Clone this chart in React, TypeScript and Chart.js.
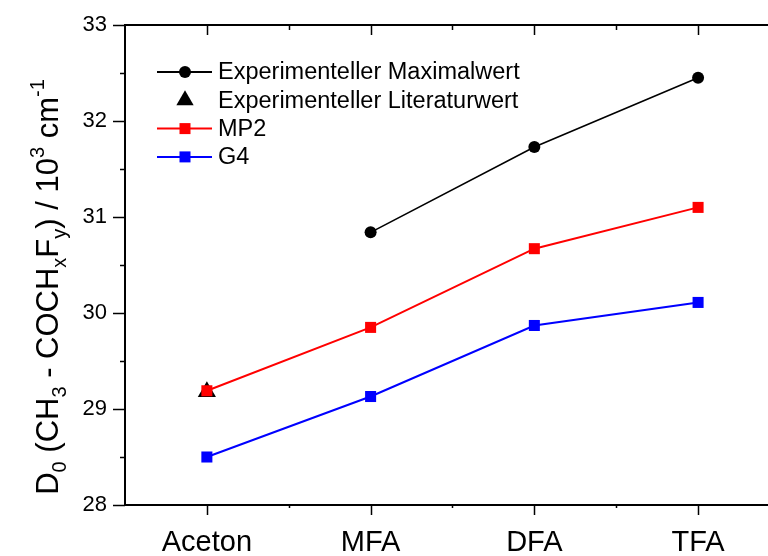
import { useEffect, useRef } from 'react';
import { Chart, registerables } from 'chart.js';

Chart.register(...registerables);

const categories = ['Aceton', 'MFA', 'DFA', 'TFA'];
const maxExp: (number | null)[] = [null, 30.84, 31.73, 32.45];
const litExp: (number | null)[] = [29.18, null, null, null];
const mp2: number[] = [29.19, 29.85, 30.67, 31.10];
const g4: number[] = [28.50, 29.13, 29.87, 30.11];
const yTicks = [28, 29, 30, 31, 32, 33];
const legendLabels = ['Experimenteller Maximalwert', 'Experimenteller Literaturwert', 'MP2', 'G4'];

const FONT = '"Liberation Sans", Arial, Helvetica, sans-serif';

const toPts = (arr: (number | null)[]) => arr.map((v, i) => ({ x: i, y: v }));

const axesPlugin = {
  id: 'customAxes',
  beforeDatasetsDraw(chart: any) {
    const { ctx, chartArea, scales } = chart;
    const { left, top, right, bottom } = chartArea;
    const x = scales.x;
    const y = scales.y;
    ctx.save();
    ctx.strokeStyle = '#000';
    ctx.lineWidth = 2;
    ctx.beginPath();
    ctx.moveTo(left, top);
    ctx.lineTo(right, top);
    ctx.moveTo(left, top - 1);
    ctx.lineTo(left, bottom + 1);
    ctx.moveTo(left, bottom);
    ctx.lineTo(right, bottom);
    ctx.stroke();
    ctx.lineWidth = 1.5;
    ctx.beginPath();
    for (let v = yTicks[0]; v <= yTicks[yTicks.length - 1] + 1e-9; v += 0.5) {
      const py = Math.round(y.getPixelForValue(v)) + 0.5;
      const major = Math.abs(v - Math.round(v)) < 1e-6;
      ctx.moveTo(left - (major ? 12 : 5), py);
      ctx.lineTo(left, py);
    }
    for (let v = 0; v <= x.max + 1e-9; v += 0.5) {
      const px = Math.round(x.getPixelForValue(v)) + 0.5;
      const major = Math.abs(v - Math.round(v)) < 1e-6;
      ctx.moveTo(px, bottom);
      ctx.lineTo(px, bottom + (major ? 10 : 3));
      ctx.moveTo(px, top);
      ctx.lineTo(px, top + (major ? 10 : 5));
    }
    ctx.stroke();
    ctx.restore();
  },
};

const drawMarker = (ctx: CanvasRenderingContext2D, kind: string, cx: number, cy: number, color: string) => {
  ctx.fillStyle = color;
  ctx.beginPath();
  if (kind === 'circle') {
    ctx.arc(cx, cy, 6, 0, Math.PI * 2);
  } else if (kind === 'triangle') {
    const r = 10;
    for (let k = 0; k < 3; k++) {
      const a = (k * 2 * Math.PI) / 3;
      const px = cx + Math.sin(a) * r;
      const py = cy - Math.cos(a) * r;
      if (k === 0) ctx.moveTo(px, py);
      else ctx.lineTo(px, py);
    }
    ctx.closePath();
  } else {
    ctx.rect(cx - 5.5, cy - 5.5, 11, 11);
  }
  ctx.fill();
};

const legendPlugin = {
  id: 'customLegend',
  afterDraw(chart: any) {
    const { ctx, chartArea } = chart;
    const { left, top } = chartArea;
    const kinds = ['circle', 'triangle', 'rect', 'rect'];
    const colors = ['#000000', '#000000', '#ff0000', '#0000ff'];
    const lines = [true, false, true, true];
    ctx.save();
    legendLabels.forEach((label, i) => {
      const cy = top + 47 + 28.3 * i;
      const x0 = left + 32;
      const x1 = left + 87;
      const mx = left + 60;
      if (lines[i]) {
        ctx.strokeStyle = colors[i];
        ctx.lineWidth = 2;
        ctx.beginPath();
        ctx.moveTo(x0, cy);
        ctx.lineTo(x1, cy);
        ctx.stroke();
      }
      drawMarker(ctx, kinds[i], mx, cy, colors[i]);
      ctx.fillStyle = '#000';
      ctx.font = `23.5px ${FONT}`;
      ctx.textBaseline = 'middle';
      ctx.textAlign = 'left';
      ctx.fillText(label, left + 93, cy + 1);
    });
    ctx.restore();
  },
};

const titleSegments: { t: string; s: 'n' | 'sub' | 'sup' }[] = [
  { t: 'D', s: 'n' },
  { t: '0', s: 'sub' },
  { t: ' (CH', s: 'n' },
  { t: '3', s: 'sub' },
  { t: ' - COCH', s: 'n' },
  { t: 'x', s: 'sub' },
  { t: 'F', s: 'n' },
  { t: 'y', s: 'sub' },
  { t: ') / 10', s: 'n' },
  { t: '3', s: 'sup' },
  { t: ' cm', s: 'n' },
  { t: '-1', s: 'sup' },
];

const titlePlugin = {
  id: 'yTitle',
  afterDraw(chart: any) {
    const { ctx, chartArea } = chart;
    const main = 31;
    const small = 20;
    ctx.save();
    const fontFor = (s: string) => `${s === 'n' ? main : small}px ${FONT}`;
    let total = 0;
    titleSegments.forEach((seg) => {
      ctx.font = fontFor(seg.s);
      total += ctx.measureText(seg.t).width;
    });
    const cy = (chartArea.top + chartArea.bottom) / 2 + 22;
    ctx.translate(58, cy);
    ctx.rotate(-Math.PI / 2);
    ctx.fillStyle = '#000';
    ctx.textBaseline = 'alphabetic';
    ctx.textAlign = 'left';
    let xx = -total / 2;
    titleSegments.forEach((seg) => {
      ctx.font = fontFor(seg.s);
      const dy = seg.s === 'sub' ? 8 : seg.s === 'sup' ? -14 : 0;
      ctx.fillText(seg.t, xx, dy);
      xx += ctx.measureText(seg.t).width;
    });
    ctx.restore();
  },
};

export default function App() {
  const ref = useRef<HTMLCanvasElement | null>(null);
  useEffect(() => {
    if (!ref.current) return;
    const chart = new Chart(ref.current, {
      type: 'line',
      data: {
        datasets: [
          {
            label: legendLabels[0],
            data: toPts(maxExp),
            borderColor: '#000000',
            backgroundColor: '#000000',
            borderWidth: 1.6,
            pointStyle: 'circle',
            pointRadius: 6,
            pointBorderWidth: 0,
            order: 0,
          },
          {
            label: legendLabels[1],
            data: toPts(litExp),
            borderColor: '#000000',
            backgroundColor: '#000000',
            showLine: false,
            pointStyle: 'triangle',
            pointRadius: 10.5,
            pointBorderWidth: 0,
            order: 3,
          },
          {
            label: legendLabels[2],
            data: toPts(mp2),
            borderColor: '#ff0000',
            backgroundColor: '#ff0000',
            borderWidth: 2,
            pointStyle: 'rect',
            pointRadius: 7.8,
            pointBorderWidth: 0,
            order: 1,
          },
          {
            label: legendLabels[3],
            data: toPts(g4),
            borderColor: '#0000ff',
            backgroundColor: '#0000ff',
            borderWidth: 2,
            pointStyle: 'rect',
            pointRadius: 7.8,
            pointBorderWidth: 0,
            order: 2,
          },
        ],
      },
      options: {
        responsive: false,
        animation: false,
        devicePixelRatio: 1,
        layout: { autoPadding: false, padding: { top: 25, left: 0, right: 0, bottom: 0 } },
        plugins: { legend: { display: false }, tooltip: { enabled: false }, title: { display: false } },
        scales: {
          x: {
            type: 'linear',
            min: -0.5,
            max: 3.427,
            grid: { display: false, drawTicks: false },
            border: { display: false },
            afterBuildTicks: (s: any) => {
              s.ticks = categories.map((_, i) => ({ value: i }));
            },
            afterFit: (s: any) => {
              s.height = 51;
              s.paddingLeft = 0;
              s.paddingRight = 0;
              s.paddingTop = 0;
              s.paddingBottom = 0;
            },
            ticks: {
              padding: 21,
              color: '#000',
              font: { family: FONT, size: 29 },
              maxRotation: 0,
              autoSkip: false,
              callback: (v: any) => categories[Math.round(Number(v))] ?? '',
            },
          },
          y: {
            type: 'linear',
            min: 28,
            max: 33,
            grid: { display: false, drawTicks: false },
            border: { display: false },
            afterBuildTicks: (s: any) => {
              s.ticks = yTicks.map((v) => ({ value: v }));
            },
            afterFit: (s: any) => {
              s.width = 125;
              s.paddingLeft = 0;
              s.paddingRight = 0;
              s.paddingTop = 0;
              s.paddingBottom = 0;
            },
            ticks: {
              padding: 18,
              color: '#000',
              font: { family: FONT, size: 22 },
              callback: (v: any) => String(v),
            },
          },
        },
      } as any,
      plugins: [axesPlugin, legendPlugin, titlePlugin],
    });
    return () => chart.destroy();
  }, []);
  return (
    <div style={{ position: 'absolute', left: 0, top: 0, width: 768, height: 556 }}>
      <canvas ref={ref} width={768} height={556} style={{ display: 'block' }} />
    </div>
  );
}
